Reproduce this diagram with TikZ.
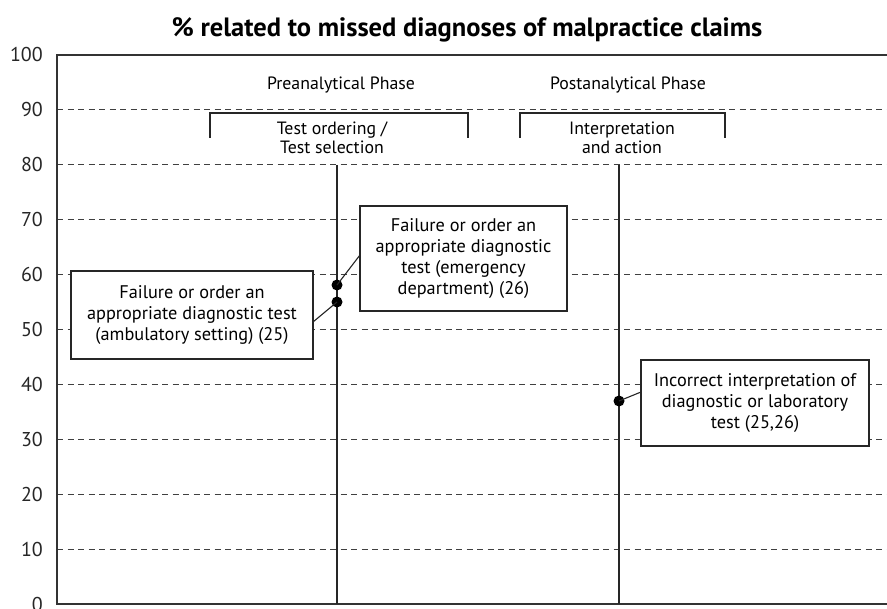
\documentclass[tikz,border=0pt]{standalone}
\usepackage{fontspec}
\setmainfont{PT Sans}
\begin{document}
\begin{tikzpicture}[x=1pt,y=-1pt,
  axisline/.style={draw=black!80,line width=1.3pt},
  gridline/.style={draw=black!75,line width=1pt,dash pattern=on 6pt off 4.5pt},
  phaseline/.style={draw=black!85,line width=1.1pt},
  ticklab/.style={anchor=east,font=\fontsize{20}{22}\selectfont,text=black!85,inner sep=0pt},
  boxtxt/.style={draw=black!85,line width=1.1pt,fill=white,align=center,font=\fontsize{18.3}{21}\selectfont,inner sep=0pt},
  lbl/.style={align=center,font=\fontsize{17.8}{19}\selectfont,inner sep=0pt},
  dot/.style={circle,fill=black,inner sep=0pt,minimum size=11pt},
  lead/.style={draw=black!85,line width=1.1pt}]
\useasboundingbox (0,0) rectangle (887,609);
% title
\node[font=\bfseries\fontsize{26.5}{28}\selectfont,inner sep=0pt] (title) at (467,30) {\% related to missed diagnoses of malpractice claims};
% grid
\foreach \v in {10,20,...,90}{
  \draw[gridline] (57,{604-5.49*\v}) -- (887,{604-5.49*\v});
}
\foreach \v in {0,10,...,100}{
  \node[ticklab] (t\v) at (43,{604-5.49*\v}) {\v};
}
\draw[axisline] (887,55) -- (57,55) -- (57,604) -- (887,604);
% phase lines
\coordinate (p1top) at (337,164.8);
\coordinate (p1bot) at (337,604);
\coordinate (p2top) at (619,164.8);
\coordinate (p2bot) at (619,604);
\draw[phaseline] (p1top) -- (p1bot);
\draw[phaseline] (p2top) -- (p2bot);
% phase labels
\node[lbl] (pre) at (341,85) {Preanalytical Phase};
\node[lbl] (post) at (628,85) {Postanalytical Phase};
% brackets
\draw[phaseline] (210,138) -- (210,113) -- (468,113) -- (468,138);
\draw[phaseline] (520,138) -- (520,113) -- (725,113) -- (725,138);
\node[lbl] (tsel) at (332,138) {Test ordering /\\Test selection};
\node[lbl] (inter) at (622,138) {Interpretation\\and action};
% boxes
\node[boxtxt,minimum width=242pt,minimum height=88pt] (boxA) at (192,315) {Failure or order an\\appropriate diagnostic test\\(ambulatory setting) (25)};
\node[boxtxt,minimum width=207pt,minimum height=105pt] (boxB) at (463.5,258.5) {Failure or order an\\appropriate diagnostic\\test (emergency\\department) (26)};
\node[boxtxt,minimum width=228pt,minimum height=86pt] (boxC) at (755,403) {Incorrect interpretation of\\diagnostic or laboratory\\test (25,26)};
% dots
\node[dot] (dA) at (337,302) {};
\node[dot] (dB) at (337,285) {};
\node[dot] (dC) at (619,401) {};
\coordinate (eA) at (313,322);
\coordinate (eB) at (360,255);
\coordinate (eC) at (641,392);
\draw[lead] (dA.center) -- (eA);
\draw[lead] (dB.center) -- (eB);
\draw[lead] (dC.center) -- (eC);
\end{tikzpicture}
\end{document}
